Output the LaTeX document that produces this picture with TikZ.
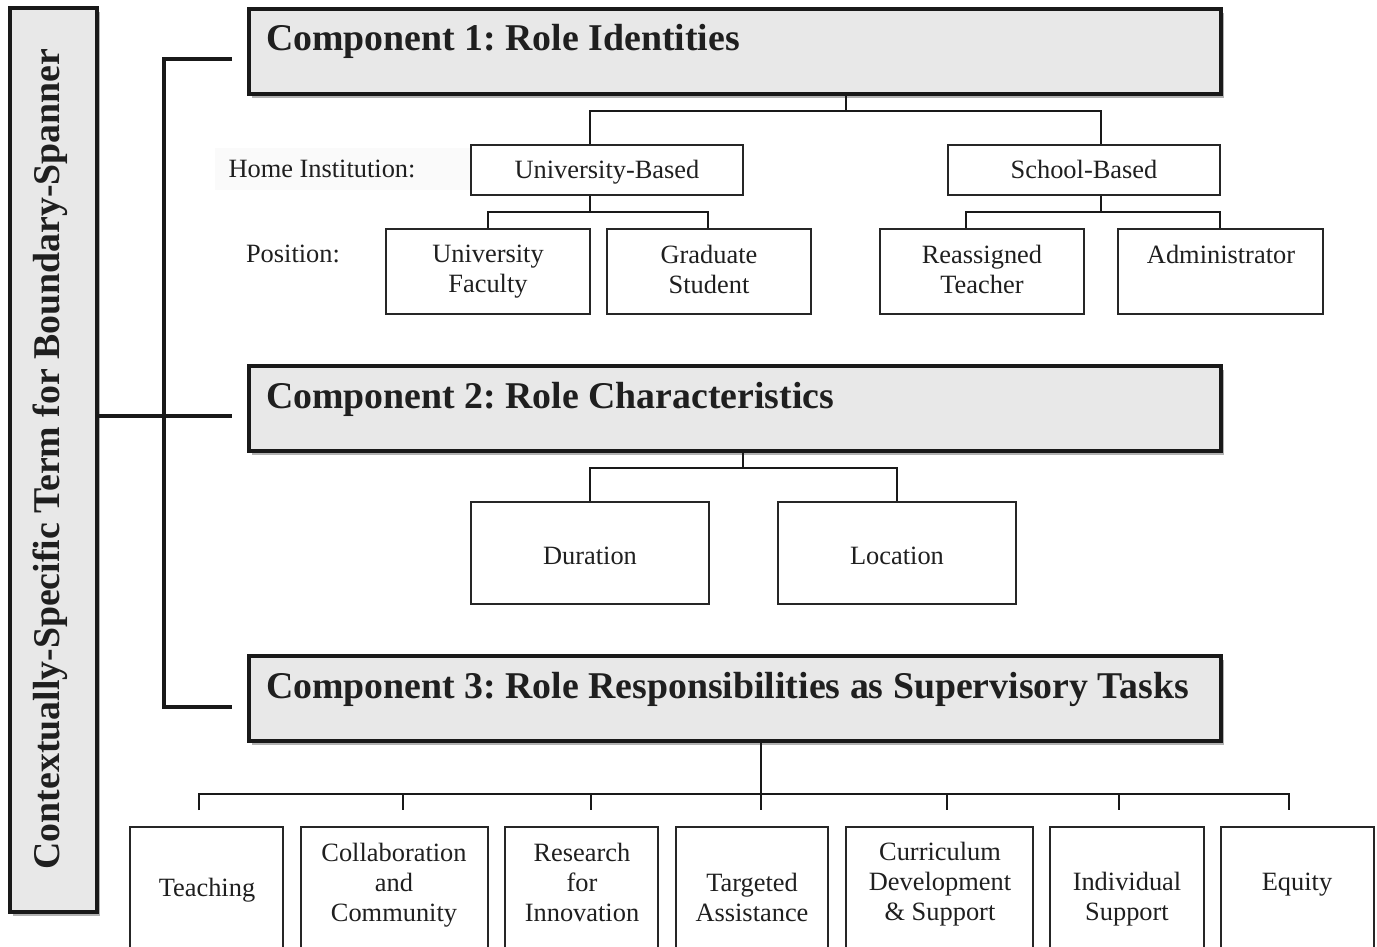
\documentclass[tikz,border=0pt]{standalone}
\usepackage{fontspec}
\setmainfont{Liberation Serif}
\usetikzlibrary{shadows}
\frenchspacing
\begin{document}
\begin{tikzpicture}[x=1pt,y=-1pt,
  comp/.style={draw=black!90, line width=3.5pt, fill=black!9,
    drop shadow={shadow xshift=3pt,shadow yshift=-4pt,opacity=0.3,fill=black}},
  box/.style={draw=black!85, line width=1.6pt, fill=white},
  conn/.style={draw=black!90, line width=2.6pt},
  brk/.style={draw=black!90, line width=3.2pt},
  title/.style={font=\fontsize{37.8}{42}\selectfont\bfseries, text=black!88, anchor=west, inner sep=0pt},
  body/.style={font=\fontsize{26.4}{30}\selectfont, text=black!88, align=center, inner sep=0pt},
]
\clip (0,0) rectangle (1377,947);
\useasboundingbox (0,0) rectangle (1377,947);

% left box
\node[comp, minimum width=87pt, minimum height=904pt] (lb) at (53.5,460) {};
\node[title, anchor=center, rotate=90] (lbt) at (50,459) {Contextually-Specific Term for Boundary-Spanner};

% component boxes
\node[comp, minimum width=972pt, minimum height=85pt] (c1) at (735,51.5) {};
\node[comp, minimum width=972pt, minimum height=85pt] (c2) at (735,408.5) {};
\node[comp, minimum width=972pt, minimum height=85pt] (c3) at (735,698.5) {};
\node[title] (c1t) at (266,41) {Component 1: Role Identities};
\node[title] (c2t) at (266,399) {Component 2: Role Characteristics};
\node[title] (c3t) at (266,689) {Component 3: Role Responsibilities as Supervisory Tasks};

% bracket
\coordinate (b1) at (232,59);
\coordinate (b2) at (232,416);
\coordinate (b3) at (232,707);
\draw[brk] (b1) -- (164,59) -- (164,707) -- (b3);
\draw[brk] (lb.east |- b2) -- (b2);

% component 1 children
\node[fill=black!2, minimum width=255pt, minimum height=42pt, inner sep=0pt] (hibg) at (342,169) {};
\node[body] (hi) at (322,169) {Home Institution:};
\node[body] (pos) at (293,254) {Position:};
\node[box, minimum width=272pt, minimum height=50pt] (ub) at (607,170) {};
\node[box, minimum width=272pt, minimum height=50pt] (sb) at (1084,170) {};
\node[body] at (607,172) {University-Based};
\node[body] at (1084,169) {School-Based};
\draw[conn] (846,0 |- c1.south) -- (846,111) -| (590,0 |- ub.north);
\draw[conn] (846,111) -| (1101,0 |- sb.north);

\node[box, minimum width=204pt, minimum height=85pt] (uf) at (488,271.5) {};
\node[box, minimum width=204pt, minimum height=85pt] (gs) at (709,271.5) {};
\node[box, minimum width=204pt, minimum height=85pt] (rt) at (982,271.5) {};
\node[box, minimum width=205pt, minimum height=85pt] (ad) at (1220.5,271.5) {};
\node[body] at (488,272) {University\\Faculty};
\node[body] at (709,269) {Graduate\\Student};
\node[body] at (982,269) {Reassigned\\Teacher};
\node[body] at (1221,254) {Administrator};
\draw[conn] (590,0 |- ub.south) -- (590,212) -| (488,0 |- uf.north);
\draw[conn] (590,212) -| (708,0 |- gs.north);
\draw[conn] (1101,0 |- sb.south) -- (1101,212) -| (966,0 |- rt.north);
\draw[conn] (1101,212) -| (1220,0 |- ad.north);

% component 2 children
\node[box, minimum width=238pt, minimum height=102pt] (du) at (590,553) {};
\node[box, minimum width=238pt, minimum height=102pt] (lo) at (897,553) {};
\node[body] at (590,556) {Duration};
\node[body] at (897,556) {Location};
\draw[conn] (743,0 |- c2.south) -- (743,468) -| (du.north);
\draw[conn] (743,468) -| (lo.north);

% component 3 children
\node[box, minimum width=153pt, minimum height=143pt] (te) at (206.5,898.5) {};
\node[box, minimum width=187pt, minimum height=143pt] (co) at (394.5,898.5) {};
\node[box, minimum width=153pt, minimum height=143pt] (re) at (581.5,898.5) {};
\node[box, minimum width=152pt, minimum height=143pt] (ta) at (752,898.5) {};
\node[box, minimum width=187pt, minimum height=143pt] (cd) at (939.5,898.5) {};
\node[box, minimum width=154pt, minimum height=143pt] (is) at (1127,898.5) {};
\node[box, minimum width=153pt, minimum height=143pt] (eq) at (1297.5,898.5) {};
\node[body] at (207,890) {Teaching};
\node[body] at (394,885) {Collaboration\\and\\Community};
\node[body] at (582,882) {Research\\for\\Innovation};
\node[body] at (752,897) {Targeted\\Assistance};
\node[body] at (940,884) {Curriculum\\Development\\\& Support};
\node[body] at (1127,899) {Individual\\Support};
\node[body] at (1297,885) {Equity};

\draw[conn, line width=2.2pt] (761,0 |- c3.south) -- (761,810);
\draw[conn, line width=2.2pt] (199,810) -- (199,794) -- (1289,794) -- (1289,810);
\foreach \xx in {403,591,947,1119} {
  \draw[conn, line width=2.2pt] (\xx,794) -- (\xx,810);
}
\end{tikzpicture}
\end{document}
